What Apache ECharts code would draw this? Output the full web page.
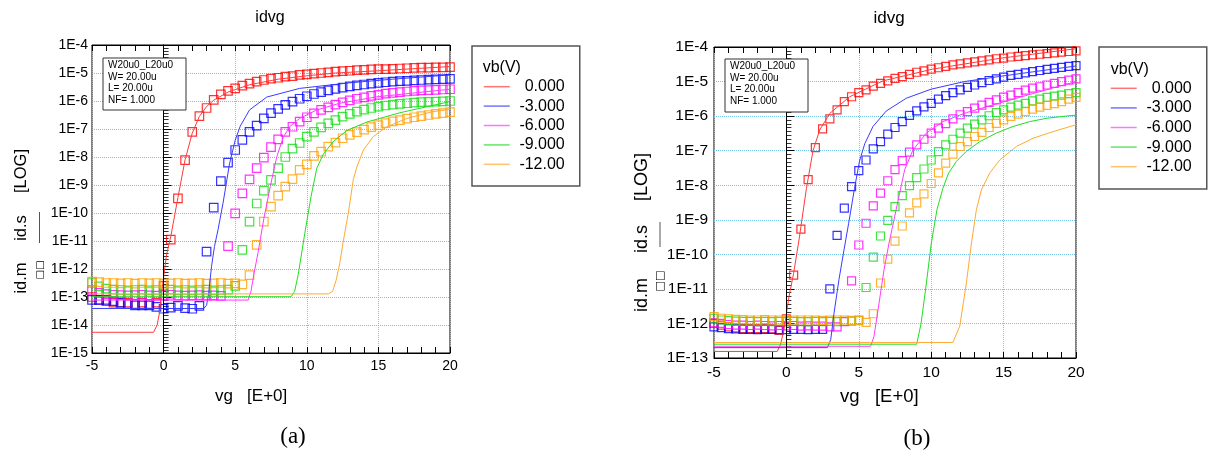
<!DOCTYPE html>
<html>
<head>
<meta charset="utf-8">
<title>idvg</title>
<script src="https://cdn.jsdelivr.net/npm/echarts@6/dist/echarts.min.js"></script>
<style>
html, body {margin: 0; padding: 0; background: #fff;}
#main {width: 1208px; height: 451px;}
</style>
</head>
<body>
<div id="main"></div>
<script>
// gate voltage of the measured points (0.5 V step)
var VG = [-5,-4.5,-4,-3.5,-3,-2.5,-2,-1.5,-1,-0.5,0,0.5,1,1.5,2,2.5,3,3.5,4,4.5,5,5.5,6,6.5,7,7.5,8,8.5,9,9.5,
          10,10.5,11,11.5,12,12.5,13,13.5,14,14.5,15,15.5,16,16.5,17,17.5,18,18.5,19,19.5,20];

var NAMES = ['0.000', '-3.000', '-6.000', '-9.000', '-12.00'];

// all currents are given as log10(id) (decades)
// ---- panel (a): measured id.m (squares)
var a_red_m = [-13.0,-13.1,-13.15,-13.2,-13.2,-13.2,-13.25,-13.2,-13.25,-13.2,
    -12.6,-10.95,-9.48,-8.11,-7.1,-6.54,-6.25,-5.96,-5.76,-5.64,
    -5.55,-5.45,-5.38,-5.31,-5.25,-5.2,-5.17,-5.13,-5.11,-5.07,
    -5.05,-5.02,-5.0,-4.98,-4.95,-4.93,-4.92,-4.9,-4.89,-4.87,
    -4.86,-4.86,-4.85,-4.84,-4.83,-4.82,-4.81,-4.81,-4.8,-4.8,-4.79];
var a_blue_m = [-13.1,-13.1,-13.1,-13.15,-13.2,-13.25,-13.3,-13.3,-13.3,-13.35,
    -13.42,-13.38,-13.32,-13.4,-13.42,-13.32,-11.38,-9.81,-8.86,-8.2,
    -7.75,-7.39,-7.1,-6.88,-6.62,-6.43,-6.28,-6.14,-6.02,-5.92,
    -5.83,-5.75,-5.68,-5.62,-5.57,-5.52,-5.48,-5.44,-5.41,-5.38,
    -5.35,-5.33,-5.31,-5.29,-5.28,-5.26,-5.25,-5.24,-5.23,-5.22,-5.21];
var a_mag_m = [-12.75,-12.85,-12.9,-12.92,-12.93,-12.94,-12.93,-12.92,-12.94,-12.95,
    -12.93,-12.92,-12.94,-12.95,-12.94,-12.93,-12.95,-12.94,-12.96,-11.18,
    -10.01,-9.3,-8.8,-8.4,-8.02,-7.65,-7.37,-7.1,-6.92,-6.74,
    -6.58,-6.44,-6.32,-6.23,-6.13,-6.05,-5.98,-5.92,-5.87,-5.82,
    -5.78,-5.74,-5.71,-5.68,-5.66,-5.64,-5.62,-5.61,-5.6,-5.59,-5.58];
var a_green_m = [-12.5,-12.62,-12.7,-12.74,-12.75,-12.76,-12.75,-12.74,-12.76,-12.75,
    -12.75,-12.74,-12.76,-12.75,-12.76,-12.75,-12.74,-12.76,-12.75,-12.74,
    -12.6,-11.32,-10.31,-9.66,-9.2,-8.82,-8.4,-8.0,-7.7,-7.5,
    -7.27,-7.1,-6.94,-6.8,-6.68,-6.56,-6.46,-6.38,-6.31,-6.25,
    -6.2,-6.16,-6.13,-6.1,-6.08,-6.06,-6.04,-6.03,-6.02,-6.01,-6.0];
var a_orange_m = [-12.45,-12.47,-12.5,-12.5,-12.51,-12.5,-12.52,-12.5,-12.51,-12.5,
    -12.52,-12.51,-12.5,-12.52,-12.51,-12.5,-12.52,-12.51,-12.5,-12.52,
    -12.51,-12.55,-12.22,-11.14,-10.31,-9.77,-9.38,-9.06,-8.79,-8.46,
    -8.26,-7.96,-7.81,-7.63,-7.49,-7.33,-7.21,-7.11,-7.02,-6.93,
    -6.86,-6.79,-6.73,-6.68,-6.63,-6.58,-6.54,-6.5,-6.46,-6.43,-6.4];

// ---- panel (a): simulated id.s (lines), [vg, log10(id)]
var a_red_s = [[-5,-14.26],[-0.7,-14.26],[-0.45,-14.0],[-0.3,-13.6],[-0.1,-12.7],[0.2,-11.5],[0.5,-10.85],
    [1,-9.45],[1.5,-8.1],[2,-7.15],[2.5,-6.55],[3,-6.2],[3.5,-5.97],[4.5,-5.68],[6,-5.42],[8,-5.22],
    [10,-5.1],[12,-5.0],[15,-4.92],[20,-4.77]];
var a_blue_s = [[-5,-13.41],[2.8,-13.41],[3.0,-13.3],[3.15,-12.85],[3.35,-11.9],[3.55,-11.2],[3.8,-10.6],
    [4.15,-9.65],[4.6,-8.25],[5.0,-7.4],[5.35,-6.9],[6.0,-6.32],[7.2,-5.86],[9.5,-5.55],[13,-5.35],
    [16,-5.22],[20,-5.07]];
var a_mag_s = [[-5,-13.11],[5.9,-13.11],[6.1,-12.8],[6.3,-12.2],[6.6,-11.4],[7.0,-10.2],[7.45,-9.05],
    [7.9,-8.0],[8.35,-7.3],[8.8,-6.92],[9.5,-6.62],[10.7,-6.32],[12.3,-6.08],[14.9,-5.85],[20,-5.58]];
var a_green_s = [[-5,-12.99],[8.9,-12.99],[9.15,-12.8],[9.4,-12.2],[9.9,-10.6],[10.3,-9.4],[10.7,-8.4],
    [11.15,-7.9],[11.85,-7.45],[12.8,-7.05],[14.2,-6.75],[16.5,-6.42],[20,-6.02]];
var a_orange_s = [[-5,-12.89],[11.5,-12.89],[11.8,-12.8],[12.05,-12.4],[12.3,-11.8],[12.55,-11.0],
    [12.9,-10.0],[13.25,-8.8],[13.5,-8.35],[13.95,-7.75],[14.64,-7.27],[15.6,-6.92],[17,-6.62],
    [18.8,-6.38],[20,-6.3]];

// ---- panel (b): measured id.m (squares)
var b_red_m = [-12.0,-12.05,-12.1,-12.13,-12.15,-12.15,-12.15,-12.15,-12.16,-12.2,
    -11.87,-10.6,-9.27,-7.84,-6.91,-6.37,-6.08,-5.82,-5.58,-5.44,
    -5.32,-5.24,-5.13,-5.05,-4.98,-4.91,-4.86,-4.79,-4.73,-4.69,
    -4.64,-4.6,-4.56,-4.52,-4.49,-4.46,-4.43,-4.4,-4.37,-4.34,
    -4.32,-4.29,-4.27,-4.25,-4.23,-4.21,-4.19,-4.17,-4.15,-4.13,-4.11];
var b_blue_m = [-12.1,-12.12,-12.15,-12.16,-12.17,-12.17,-12.18,-12.17,-12.17,-12.18,
    -12.18,-12.17,-12.17,-12.18,-12.17,-12.17,-11.0,-9.45,-8.66,-8.04,
    -7.58,-7.27,-6.95,-6.74,-6.52,-6.33,-6.16,-5.98,-5.85,-5.73,
    -5.63,-5.51,-5.41,-5.32,-5.24,-5.17,-5.1,-5.03,-4.97,-4.92,
    -4.87,-4.82,-4.79,-4.75,-4.71,-4.68,-4.65,-4.62,-4.59,-4.56,-4.54];
var b_mag_m = [-11.98,-12.0,-12.03,-12.05,-12.05,-12.06,-12.05,-12.06,-12.07,-12.06,
    -12.07,-12.06,-12.08,-12.07,-12.08,-12.08,-12.1,-12.1,-11.95,-10.77,
    -9.73,-9.1,-8.6,-8.23,-7.87,-7.55,-7.29,-7.04,-6.83,-6.67,
    -6.49,-6.35,-6.22,-6.08,-5.96,-5.87,-5.77,-5.68,-5.6,-5.53,
    -5.45,-5.39,-5.32,-5.25,-5.19,-5.15,-5.1,-5.05,-5.0,-4.96,-4.92];
var b_green_m = [-11.85,-11.9,-11.92,-11.93,-11.94,-11.94,-11.95,-11.94,-11.95,-11.94,
    -11.95,-11.94,-11.95,-11.95,-11.94,-11.95,-11.94,-11.95,-11.94,-11.93,
    -11.9,-10.96,-10.08,-9.47,-9.02,-8.62,-8.3,-8.01,-7.78,-7.53,
    -7.27,-7.03,-6.83,-6.67,-6.49,-6.35,-6.23,-6.11,-5.99,-5.9,
    -5.82,-5.74,-5.68,-5.63,-5.56,-5.51,-5.46,-5.42,-5.39,-5.35,-5.32];
var b_orange_m = [-11.8,-11.85,-11.87,-11.88,-11.89,-11.9,-11.9,-11.89,-11.9,-11.9,
    -11.91,-11.9,-11.9,-11.9,-11.9,-11.91,-11.9,-11.9,-11.9,-11.91,
    -11.92,-11.97,-11.72,-10.83,-10.14,-9.62,-9.18,-8.8,-8.51,-8.25,
    -7.95,-7.64,-7.36,-7.1,-6.88,-6.74,-6.59,-6.47,-6.33,-6.21,
    -6.11,-6.01,-5.94,-5.87,-5.8,-5.74,-5.69,-5.64,-5.58,-5.51,-5.46];

// ---- panel (b): simulated id.s (lines)
var b_red_s = [[-5,-12.81],[-0.63,-12.81],[-0.4,-12.6],[-0.17,-12.18],[0.18,-11.22],[0.5,-10.55],
    [0.9,-9.5],[1.38,-8.1],[1.84,-7.0],[2.3,-6.4],[3.0,-5.92],[4.37,-5.44],[6.67,-4.98],[10.1,-4.64],
    [14.7,-4.33],[20,-4.05]];
var b_blue_s = [[-5,-12.7],[2.83,-12.7],[3.06,-12.47],[3.29,-11.7],[3.63,-10.73],[3.98,-9.87],[4.3,-9.1],
    [4.7,-8.1],[5.05,-7.3],[5.41,-6.8],[5.98,-6.3],[6.9,-5.85],[8.29,-5.48],[10,-5.22],[12.3,-5.0],
    [14.6,-4.86],[17,-4.72],[20,-4.55]];
var b_mag_s = [[-5,-12.66],[5.82,-12.66],[6.05,-12.37],[6.4,-11.41],[6.74,-10.45],[7.09,-9.67],[7.43,-9.0],
    [7.82,-8.23],[8.17,-7.55],[8.74,-6.98],[9.67,-6.49],[10.8,-6.16],[12.43,-5.9],[14.73,-5.62],
    [17,-5.35],[20,-5.0]];
var b_green_s = [[-5,-12.6],[9.0,-12.6],[9.3,-12.0],[9.67,-10.83],[10.0,-9.7],[10.4,-8.7],[10.8,-8.1],
    [11.2,-7.65],[11.74,-7.31],[12.43,-7.02],[13.35,-6.74],[14.5,-6.49],[15.65,-6.3],[16.8,-6.16],
    [18,-6.06],[20,-5.97]];
var b_orange_s = [[-5,-12.55],[11.5,-12.55],[11.97,-12.08],[12.43,-10.83],[12.78,-9.67],[13.12,-8.71],
    [13.47,-8.13],[14.04,-7.65],[14.73,-7.27],[15.88,-6.88],[17.03,-6.64],[18.41,-6.45],[20,-6.25]];

var FONT = '"Liberation Sans", Arial, sans-serif';
var LINE_COLORS = ['#ff3b3b', '#3b3bff', '#ff3bff', '#22dd22', '#ffaa33'];
var MARK_COLORS = ['#ff0000', '#0000ff', '#ff00ff', '#11dd11', '#ffa000'];
var GRID_COLOR = '#74c4ea';

function measSeries(k, logs, g, size) {
    return {
        name: 'm ' + NAMES[k], type: 'scatter', xAxisIndex: g * 2, yAxisIndex: g,
        symbol: 'rect', symbolSize: size, silent: true,
        itemStyle: {color: 'rgba(0,0,0,0)', borderColor: MARK_COLORS[k], borderWidth: 1.2},
        data: VG.map(function (v, i) { return [v, logs[i]]; })
    };
}

function simSeries(k, pts, g) {
    var s = {
        name: NAMES[k], type: 'line', xAxisIndex: g * 2, yAxisIndex: g,
        symbol: 'none', showSymbol: false, silent: true, z: 3,
        lineStyle: {width: 1, color: LINE_COLORS[k]},
        itemStyle: {color: LINE_COLORS[k]},
        data: pts
    };
    if (k === 0) {   // black line at vg = 0
        s.markLine = {
            silent: true, symbol: ['none', 'none'], label: {show: false},
            lineStyle: {color: '#000', type: 'solid', width: 1},
            data: [{xAxis: 0}]
        };
    }
    return s;
}

function xAxisCfg(g, pos, fs, margin) {
    var bottom = pos === 'bottom';
    return {
        gridIndex: g, type: 'value', min: -5, max: 20, interval: 5, position: pos,
        axisLine: {show: true, lineStyle: {color: '#000', width: 1}},
        axisTick: {show: true, inside: true, length: 6, lineStyle: {color: '#000'}},
        minorTick: {show: true, splitNumber: 5, length: 6, lineStyle: {color: '#000'}},
        axisLabel: {show: bottom, fontSize: fs, color: '#000', margin: margin, fontFamily: FONT,
            showMinLabel: true, showMaxLabel: true},
        splitLine: {show: bottom, lineStyle: {color: GRID_COLOR, type: 'dotted', width: 1}}
    };
}

function yAxisCfg(g, min, fs, margin) {
    return {
        gridIndex: g, type: 'value', min: min, max: -4, interval: 1,
        axisLine: {show: true, lineStyle: {color: '#000', width: 1}},
        axisTick: {show: true, inside: true, length: 8, lineStyle: {color: '#000'}},
        minorTick: {show: true, splitNumber: 9, length: 5, lineStyle: {color: '#333'}},
        axisLabel: {fontSize: fs, color: '#000', margin: margin, fontFamily: FONT,
            showMinLabel: true, showMaxLabel: true,
            formatter: function (v) { return '1E' + v; }},
        splitLine: {show: true, lineStyle: {color: GRID_COLOR, type: 'dotted', width: 1}}
    };
}

function legendCfg(left, top, padTop, padBottom, gap) {
    return {
        orient: 'vertical', left: left, top: top, data: NAMES, selectedMode: false,
        padding: [padTop, 15, padBottom, 11], itemWidth: 26, itemHeight: 14, itemGap: gap,
        borderColor: '#555', borderWidth: 1.5, backgroundColor: '#fff',
        itemStyle: {color: 'rgba(0,0,0,0)', borderWidth: 0, opacity: 0},
        lineStyle: {width: 1.5, opacity: 0.7},
        formatter: function (n) { return '{v|' + n + '}'; },
        textStyle: {rich: {v: {width: 50, align: 'right', fontSize: 16, lineHeight: 16,
            fontFamily: FONT, color: '#000'}}}
    };
}

function txt(x, y, s, font, extra) {
    var o = {type: 'text', x: x, y: y, z: 100,
        style: {text: s, font: font, fill: '#000', align: 'center', verticalAlign: 'middle'}};
    for (var key in extra) { o[key] = extra[key]; }
    return o;
}

function leftTxt(x, y, s, font) {
    return {type: 'text', x: x, y: y, z: 100,
        style: {text: s, font: font, fill: '#000', align: 'left', verticalAlign: 'middle'}};
}

// parameter box drawn over the plot
function infoBox(x, y, w, h) {
    return [
        {type: 'rect', z: 100, shape: {x: x, y: y, width: w, height: h},
         style: {fill: '#fff', stroke: '#333', lineWidth: 1}},
        {type: 'text', z: 101, x: x + 5, y: y + 1.5,
         style: {text: 'W20u0_L20u0\nW= 20.00u\nL= 20.00u\nNF= 1.000',
                 font: '10px ' + FONT, lineHeight: 11.5, fill: '#000',
                 align: 'left', verticalAlign: 'top'}}
    ];
}

var up = {rotation: Math.PI / 2};

var graphics = [
    txt(270, 18, 'idvg', '16px ' + FONT),
    txt(889, 18, 'idvg', '17px ' + FONT),
    // y axis names with their marker keys
    txt(21, 171, '[LOG]', '16.5px ' + FONT, up),
    txt(21, 228, 'id.s', '16.5px ' + FONT, up),
    txt(21, 278, 'id.m', '16.5px ' + FONT, up),
    txt(40.5, 270, '\u25a1\u25a1', '10px "DejaVu Sans"', up),
    {type: 'line', shape: {x1: 39.5, y1: 212, x2: 39.5, y2: 243}, style: {stroke: '#555', lineWidth: 1}},
    txt(642, 177, '[LOG]', '18px ' + FONT, up),
    txt(642, 239, 'id.s', '18px ' + FONT, up),
    txt(642, 295, 'id.m', '18px ' + FONT, up),
    txt(660.5, 281, '\u25a1\u25a1', '11px "DejaVu Sans"', up),
    {type: 'line', shape: {x1: 660, y1: 222, x2: 660, y2: 247}, style: {stroke: '#555', lineWidth: 1}},
    // x axis names
    leftTxt(215, 396, 'vg   [E+0]', '17px ' + FONT),
    leftTxt(840, 397, 'vg   [E+0]', '18.5px ' + FONT),
    txt(293, 437, '(a)', '23px "Liberation Serif", "Times New Roman", serif'),
    txt(917, 439, '(b)', '23px "Liberation Serif", "Times New Roman", serif'),
    leftTxt(482.7, 67.7, 'vb(V)', '16px ' + FONT),
    leftTxt(1110.7, 69.5, 'vb(V)', '16px ' + FONT)
].concat(infoBox(103, 58, 83, 52), infoBox(725, 59, 83, 53));

var option = {
    animation: false,
    backgroundColor: '#fff',
    grid: [
        {left: 92, top: 45, width: 358, height: 308, show: true, borderColor: '#000', borderWidth: 1,
         outerBoundsMode: 'none'},
        {left: 714, top: 47, width: 362, height: 311, show: true, borderColor: '#000', borderWidth: 1,
         outerBoundsMode: 'none'}
    ],
    xAxis: [
        xAxisCfg(0, 'bottom', 14, 6), xAxisCfg(0, 'top', 14, 6),
        xAxisCfg(1, 'bottom', 15.5, 7), xAxisCfg(1, 'top', 15.5, 7)
    ],
    yAxis: [yAxisCfg(0, -15, 14, 4), yAxisCfg(1, -13, 15.5, 6)],
    legend: [legendCfg(472, 46, 32.7, 13.7, 3.4), legendCfg(1099, 47, 33.3, 14.3, 3.6)],
    graphic: {elements: graphics, z: 100},
    series: [
        measSeries(0, a_red_m, 0, 8.5), measSeries(1, a_blue_m, 0, 8.5), measSeries(2, a_mag_m, 0, 8.5),
        measSeries(3, a_green_m, 0, 8.5), measSeries(4, a_orange_m, 0, 8.5),
        simSeries(0, a_red_s, 0), simSeries(1, a_blue_s, 0), simSeries(2, a_mag_s, 0),
        simSeries(3, a_green_s, 0), simSeries(4, a_orange_s, 0),
        measSeries(0, b_red_m, 1, 8), measSeries(1, b_blue_m, 1, 8), measSeries(2, b_mag_m, 1, 8),
        measSeries(3, b_green_m, 1, 8), measSeries(4, b_orange_m, 1, 8),
        simSeries(0, b_red_s, 1), simSeries(1, b_blue_s, 1), simSeries(2, b_mag_s, 1),
        simSeries(3, b_green_s, 1), simSeries(4, b_orange_s, 1)
    ]
};

var myChart = echarts.init(document.getElementById('main'), null, {renderer: 'canvas'});
myChart.setOption(option);
</script>
</body>
</html>
